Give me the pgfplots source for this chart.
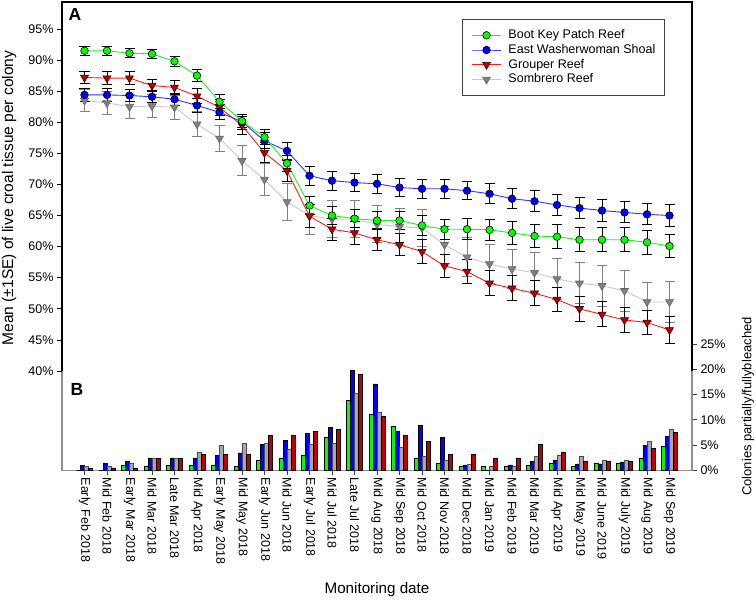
\documentclass[border=0pt]{standalone}
\usepackage{fontspec}
\setmainfont{Liberation Sans}
\usepackage{pgfplots}
\usepackage{pgfplotstable}
\pgfplotsset{compat=1.18}
\definecolor{cgreen}{HTML}{00FF00}
\definecolor{cgreenl}{HTML}{22EE22}
\definecolor{cblue}{HTML}{0000FF}
\definecolor{cbluel}{HTML}{3333FF}
\definecolor{cred}{HTML}{C00000}
\definecolor{credl}{HTML}{EE2222}
\definecolor{cgray}{HTML}{808080}
\definecolor{cgrayl}{HTML}{C8C8C8}
\definecolor{bgray}{HTML}{A8A8A8}
\definecolor{axgray}{HTML}{909090}

\pgfplotstableread{
x  g    ge   b    be   r    re   s    se
0  91.5 0.7  84.4 1.0  87.2 1.0  83.5 1.7
1  91.5 0.7  84.4 1.0  87.1 1.0  83.1 1.8
2  91.1 0.7  84.3 1.0  87.1 1.0  82.5 1.9
3  91.0 0.7  84.1 1.0  85.9 1.0  82.6 1.9
4  89.8 0.8  83.7 1.0  85.6 1.1  82.4 1.9
5  87.5 1.0  82.7 1.1  84.2 1.2  79.7 2.0
6  83.3 1.1  81.6 1.2  82.4 1.3  77.4 2.1
7  80.2 1.0  80.1 1.2  79.5 1.4  73.8 2.4
8  77.6 1.2  77.0 1.3  75.1 1.6  70.8 2.5
9  73.4 1.3  75.4 1.4  72.2 1.7  67.2 3.0
10 66.6 1.5  71.4 1.5  64.9 1.8  65.0 3.0
11 65.0 1.5  70.6 1.5  62.8 1.8  64.4 3.0
12 64.5 1.5  70.3 1.5  62.2 1.8  64.4 3.0
13 64.2 1.5  70.1 1.5  61.1 1.8  63.6 3.0
14 64.2 1.5  69.5 1.5  60.3 1.8  63.2 3.0
15 63.4 1.6  69.3 1.5  59.2 1.9  63.0 3.0
16 62.8 1.6  69.3 1.5  56.9 1.9  60.3 3.0
17 62.8 1.7  69.0 1.5  56.0 1.9  58.3 3.1
18 62.7 1.7  68.5 1.6  54.1 2.0  57.2 3.2
19 62.2 1.8  67.7 1.6  53.3 2.0  56.4 3.2
20 61.7 1.9  67.3 1.7  52.5 2.0  55.8 3.3
21 61.6 1.9  66.7 1.7  51.5 2.0  54.8 3.3
22 61.1 1.9  66.2 1.7  50.0 2.0  54.1 3.3
23 61.1 1.9  65.8 1.7  49.1 2.0  53.7 3.3
24 61.1 1.9  65.5 1.7  48.2 2.0  52.9 3.3
25 60.7 1.9  65.2 1.7  47.8 2.0  51.1 3.2
26 60.1 1.9  65.0 1.7  46.6 2.1  51.1 3.3
}\lines

\pgfplotstableread{
x  g    b    s    r
0  0.0  1.0  0.8  0.5
1  0.0  1.5  0.8  0.5
2  1.1  1.8  1.4  0.5
3  0.8  2.5  2.5  2.4
4  1.1  2.5  2.5  2.4
5  1.1  2.5  3.7  3.2
6  1.1  3.0  4.9  3.2
7  0.8  3.5  5.3  3.2
8  2.0  5.2  5.3  7.0
9  2.5  6.0  4.2  7.0
10 3.0  7.3  5.2  7.7
11 6.5  8.5  5.3  8.1
12 13.9 19.8 15.2 19.1
13 11.2 17.1 11.5 10.8
14 8.8  7.7  4.5  7.0
15 2.5  8.9  2.8  5.7
16 1.5  6.5  2.1  3.2
17 0.8  1.1  1.3  3.2
18 0.8  0.1  0.8  2.5
19 0.8  1.1  0.8  2.5
20 1.1  1.8  2.8  5.1
21 1.5  2.1  3.0  3.7
22 0.8  1.3  2.8  1.9
23 1.5  1.3  2.0  1.9
24 1.5  1.7  2.0  1.8
25 2.5  5.0  5.7  4.3
26 4.7  6.7  8.2  7.5
}\bars

\newcommand{\tfont}{\fontsize{12.5bp}{14bp}\selectfont}

\begin{document}
\begin{tikzpicture}
\useasboundingbox (0,0) rectangle (756bp,600bp);

% ---------- Panel B (bars) ----------
\begin{axis}[
  at={(62bp,129.5bp)}, anchor=south west, scale only axis,
  width=630bp, height=126.5bp,
  xmin=-1, xmax=27, ymin=0, ymax=25,
  axis line style={draw=none},
  xtick={0,...,26},
  xticklabels={Early Feb 2018,Mid Feb 2018,Early Mar 2018,Mid Mar 2018,Late Mar 2018,Mid Apr 2018,Early May 2018,Mid May 2018,Early Jun 2018,Mid Jun 2018,Early Jul 2018,Mid Jul 2018,Late Jul 2018,Mid Aug 2018,Mid Sep 2018,Mid Oct 2018,Mid Nov 2018,Mid Dec 2018,Mid Jan 2019,Mid Feb 2019,Mid Mar 2019,Mid Apr 2019,Mid May 2019,Mid June 2019,Mid July 2019,Mid Aug 2019,Mid Sep 2019},
  x tick label style={rotate=-90, anchor=west, font=\tfont, inner sep=2bp},
  ytick={0,5,...,25},
  yticklabel={\pgfmathprintnumber[assume math mode=true]{\tick}\%},
  y tick label style={anchor=west, font=\tfont},
  xtick pos=bottom, ytick pos=right, yticklabel pos=right,
  tick align=outside, major tick length=5bp,
  tick style={black!75, line width=0.8bp},
  clip=false,
]
\draw[axgray, line width=1.2bp] (rel axis cs:0,1) -- (rel axis cs:0,0) -- (rel axis cs:1,0) -- (rel axis cs:1,1);
\addplot[ybar, bar width=4bp, bar shift=-6bp, fill=cgreen, draw=black, line width=0.5bp] table[x=x,y=g] {\bars};
\addplot[ybar, bar width=4bp, bar shift=-2bp, fill=cblue, draw=black, line width=0.5bp] table[x=x,y=b] {\bars};
\addplot[ybar, bar width=4bp, bar shift=2bp, fill=bgray, draw=black!70, line width=0.5bp] table[x=x,y=s] {\bars};
\addplot[ybar, bar width=4bp, bar shift=6bp, fill=cred, draw=black, line width=0.5bp] table[x=x,y=r] {\bars};
\end{axis}

% ---------- Panel A (lines) ----------
\begin{axis}[
  at={(62bp,229bp)}, anchor=south west, scale only axis,
  width=630bp, height=369bp,
  xmin=-1, xmax=27, ymin=40, ymax=99.34,
  axis line style={draw=none},
  xtick=\empty,
  ytick={40,45,...,95},
  yticklabel={\pgfmathprintnumber[assume math mode=true]{\tick}\%},
  y tick label style={font=\tfont},
  ytick pos=left, tick align=outside, major tick length=5bp,
  tick style={black, line width=0.8bp},
  clip=false,
  legend cell align=left,
  legend style={at={(0.6344,0.9531)}, anchor=north west, draw=black!75, line width=0.8bp,
    fill=white, font=\tfont, inner sep=9.5bp, row sep=2.5bp, column sep=7bp,
    nodes={inner sep=0bp, text height=9.5bp, text depth=2.7bp}},
  legend image code/.code={\draw[mark repeat=2, mark phase=2] plot coordinates {(0bp,0bp) (14.5bp,0bp) (29bp,0bp)};},
]
\draw[black, line width=1.1bp] (rel axis cs:0,0) -- (rel axis cs:0,1) -- (rel axis cs:1,1) -- (rel axis cs:1,0);

\addplot[cgrayl, line width=0.9bp, mark=triangle*, mark size=4.6bp,
  mark options={rotate=180, fill=cgray, draw=black!60, line width=0.6bp, solid},
  error bars/.cd, y dir=both, y explicit,
  error bar style={line width=1bp, cgray},
  error mark options={rotate=90, mark size=5bp, line width=1bp, cgray}]
  table[x=x, y=s, y error=se] {\lines};
\addplot[credl, line width=0.9bp, mark=triangle*, mark size=4.6bp,
  mark options={rotate=180, fill=cred, draw=black!80!red, line width=0.6bp, solid},
  error bars/.cd, y dir=both, y explicit,
  error bar style={line width=1bp, black},
  error mark options={rotate=90, mark size=5bp, line width=1bp, black}]
  table[x=x, y=r, y error=re] {\lines};
\addplot[cbluel, line width=0.9bp, mark=*, mark size=3.8bp,
  mark options={fill=cblue, draw=black, line width=0.6bp, solid},
  error bars/.cd, y dir=both, y explicit,
  error bar style={line width=1bp, black},
  error mark options={rotate=90, mark size=5bp, line width=1bp, black}]
  table[x=x, y=b, y error=be] {\lines};
\addplot[cgreenl, line width=0.9bp, mark=*, mark size=3.8bp,
  mark options={fill=cgreen, draw=black, line width=0.6bp, solid},
  error bars/.cd, y dir=both, y explicit,
  error bar style={line width=1bp, black},
  error mark options={rotate=90, mark size=5bp, line width=1bp, black}]
  table[x=x, y=g, y error=ge] {\lines};

\legend{}
\end{axis}

% legend axis (same order as reference)
\begin{axis}[
  at={(62bp,229bp)}, anchor=south west, scale only axis,
  width=630bp, height=369bp,
  xmin=-1, xmax=27, ymin=40, ymax=99.34,
  hide axis,
  legend cell align=left,
  legend style={at={(0.6344,0.9531)}, anchor=north west, draw=black!75, line width=0.8bp,
    fill=white, font=\tfont, inner sep=9.5bp, row sep=2.5bp, column sep=7bp,
    nodes={inner sep=0bp, text height=9.5bp, text depth=2.7bp}},
  legend image code/.code={\draw[mark repeat=2, mark phase=2] plot coordinates {(0bp,0bp) (14.5bp,0bp) (29bp,0bp)};},
]
\addlegendimage{cgreenl, line width=0.9bp, mark=*, mark size=3.8bp, mark options={fill=cgreen, draw=black, line width=0.6bp}}
\addlegendentry{Boot Key Patch Reef}
\addlegendimage{cbluel, line width=0.9bp, mark=*, mark size=3.8bp, mark options={fill=cblue, draw=black, line width=0.6bp}}
\addlegendentry{East Washerwoman Shoal}
\addlegendimage{credl, line width=0.9bp, mark=triangle*, mark size=4.6bp, mark options={rotate=180, fill=cred, draw=black!80!red, line width=0.6bp}}
\addlegendentry{Grouper Reef}
\addlegendimage{cgrayl, line width=0.9bp, mark=triangle*, mark size=4.6bp, mark options={rotate=180, fill=cgray, draw=black!60, line width=0.6bp}}
\addlegendentry{Sombrero Reef}
\end{axis}

% titles and panel letters
\node[rotate=90, font=\fontsize{15.5bp}{17bp}\selectfont] at (9bp,402bp) {Mean (±1SE) of live croal tissue per colony};
\node[font=\fontsize{15.2bp}{17bp}\selectfont] at (377bp,10bp) {Monitoring date};
\node[rotate=90, font=\fontsize{13bp}{15bp}\selectfont] at (748bp,193.5bp) {Colonies partially/fullybleached};
\node[font=\fontsize{17.5bp}{19bp}\selectfont\bfseries] at (75bp,585.5bp) {A};
\node[font=\fontsize{17.5bp}{19bp}\selectfont\bfseries] at (77bp,210.5bp) {B};
\end{tikzpicture}
\end{document}
